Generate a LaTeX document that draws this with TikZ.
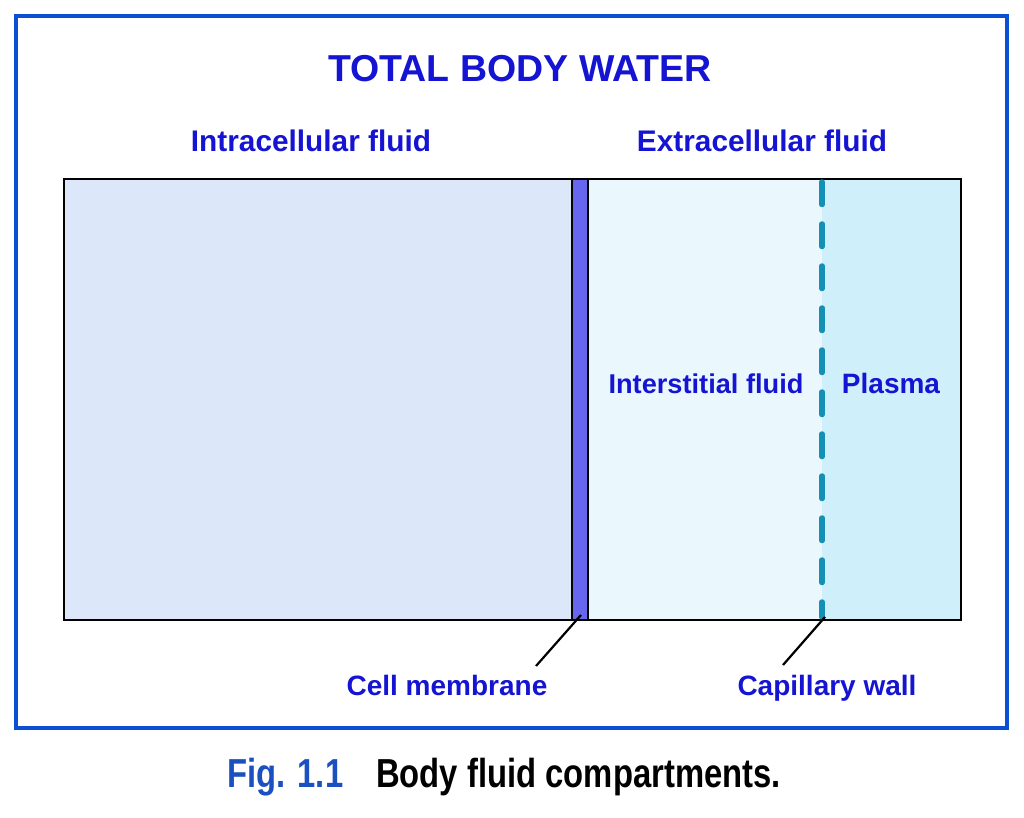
\documentclass[tikz,border=0pt]{standalone}
\usepackage{fontspec}
\setmainfont{Liberation Sans}
\newfontfamily\capfont{Liberation Sans}[FakeStretch=0.81]
\definecolor{frameblue}{HTML}{0B4FD4}
\definecolor{txtblue}{HTML}{1414D2}
\definecolor{figblue}{HTML}{1A50C0}
\definecolor{icf}{HTML}{DCE7FA}
\definecolor{isf}{HTML}{EAF8FD}
\definecolor{plasma}{HTML}{CFEFFA}
\definecolor{memb}{HTML}{6666EE}
\definecolor{capw}{HTML}{1590B5}
\tikzset{
  lbl/.style={font=\bfseries\fontsize{28}{32}\selectfont, text=txtblue, anchor=base, inner sep=0pt},
  biglbl/.style={lbl, font=\bfseries\fontsize{29.8}{34}\selectfont},
  smlbl/.style={lbl, font=\bfseries\fontsize{27.2}{31}\selectfont},
  ttl/.style={font=\bfseries\fontsize{37.5}{42}\selectfont, text=txtblue, anchor=base, inner sep=0pt},
  captxt/.style={font=\capfont\bfseries\fontsize{40.5}{46}\selectfont, anchor=base west, inner sep=0pt},
  leader/.style={draw=black, line width=2.2pt},
}
\begin{document}
\begin{tikzpicture}[x=1pt,y=-1pt]
\useasboundingbox (0,0) rectangle (1024,818);
\fill[white] (0,0) rectangle (1024,818);
% outer frame
\draw[frameblue, line width=4pt] (16,16) rectangle (1007,728);
% compartments
\fill[icf] (64,179) rectangle (572,620);
\fill[isf] (588,179) rectangle (822,620);
\fill[plasma] (822,179) rectangle (961,620);
\draw[black, line width=1.2pt, fill=memb] (572,179) rectangle (588,620);
\draw[black, line width=2pt] (64,179) rectangle (961,620);
% capillary wall
\draw[capw, line width=5.5pt, line cap=round, dash pattern=on 22.5pt off 19.5pt] (822,182) -- (822,617);
% texts
\node[ttl] (title) at (520,82) {TOTAL BODY WATER};
\node[biglbl] (icfl) at (311,152) {Intracellular fluid};
\node[biglbl] (ecfl) at (762,152) {Extracellular fluid};
\node[smlbl] (isfl) at (706,393) {Interstitial fluid};
\node[lbl] (pll) at (891,393) {Plasma};
\node[lbl] (cm) at (447,695) {Cell membrane};
\node[lbl] (cw) at (827,695) {Capillary wall};
% leaders
\coordinate (memtip) at (581,615);
\coordinate (cmend) at (536,666);
\coordinate (captip) at (825,617);
\coordinate (cwend) at (783,665);
\draw[leader] (memtip) -- (cmend);
\draw[leader] (captip) -- (cwend);
% caption
\node[captxt, text=figblue] (fig) at (227,787) {Fig. 1.1};
\node[captxt, text=black] (figtxt) at (376,787) {Body fluid compartments.};
\end{tikzpicture}
\end{document}
